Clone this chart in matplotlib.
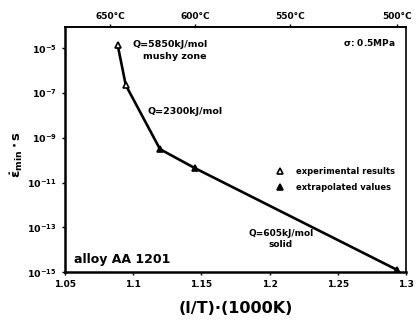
import matplotlib
matplotlib.use("Agg")
import matplotlib.pyplot as plt
from matplotlib.lines import Line2D
import numpy as np

# data
inv_T = [1.0886, 1.0945, 1.1196, 1.1453, 1.2934]
log_rate = [-4.87, -6.65, -9.51, -10.36, -14.9]
experimental = [True, True, False, False, False]
x_ticks = [1.05, 1.1, 1.15, 1.2, 1.25, 1.3]
x_tick_labels = ["1.05", "1.1", "1.15", "1.2", "1.25", "1.3"]
y_exps = [-5, -7, -9, -11, -13, -15]
top_temps = [650, 600, 550, 500]

rate = [10.0 ** v for v in log_rate]

plt.rcParams['font.family'] = ['DejaVu Sans']
plt.rcParams['font.weight'] = 'bold'
plt.rcParams['mathtext.default'] = 'bf'

fig = plt.figure(figsize=(4.17, 3.24), dpi=100)
ax = fig.add_axes([0.156, 0.160, 0.818, 0.757])

ax.plot(inv_T, rate, color='black', lw=1.9, zorder=2)
for xv, yv, exp in zip(inv_T, rate, experimental):
    ax.plot([xv], [yv], marker='^', ms=5, mew=1.2, color='black',
            mfc='white' if exp else 'black', zorder=3)

ax.set_yscale('log')
ax.set_xlim(1.05, 1.3)
ax.set_ylim(1e-15, 10 ** -4.05)
ax.set_yticks([10.0 ** e for e in y_exps])
ax.set_yticklabels([r'$10^{%d}$' % e for e in y_exps], fontsize=6.8)
ax.yaxis.set_minor_locator(matplotlib.ticker.NullLocator())
ax.set_xticks(x_ticks)
ax.set_xticklabels(x_tick_labels, fontsize=6.5, fontweight='bold')
ax.tick_params(axis='both', direction='out', length=2, width=1, pad=4)

for s in ['left', 'bottom']:
    ax.spines[s].set_linewidth(1.8)
for s in ['top', 'right']:
    ax.spines[s].set_linewidth(1.2)

sec = ax.secondary_xaxis('top', functions=(lambda x: 1000.0 / np.asarray(x, float) - 273.15,
                                            lambda t: 1000.0 / (np.asarray(t, float) + 273.15)))
sec.set_xticks(top_temps)
sec.set_xticklabels(['%d°C' % t for t in top_temps], fontsize=6.5, fontweight='bold')
sec.tick_params(direction='out', length=2, width=1, pad=2)
sec.spines['top'].set_linewidth(1.2)

ax.set_xlabel('(l/T)·(1000K)', fontsize=11.5, fontweight='bold', labelpad=8)
ax.set_ylabel(r'$\dot{\varepsilon}_{min}\cdot s$', fontsize=9.5)
ax.yaxis.set_label_coords(-0.118, 0.48)

tr = ax.transAxes
ax.text(0.197, 0.927, 'Q=5850kJ/mol', transform=tr, fontsize=6.8, fontweight='bold', va='center')
ax.text(0.323, 0.878, 'mushy zone', transform=tr, fontsize=6.8, fontweight='bold', va='center', ha='center')
ax.text(0.241, 0.653, 'Q=2300kJ/mol', transform=tr, fontsize=6.8, fontweight='bold', va='center')
ax.text(0.632, 0.158, 'Q=605kJ/mol', transform=tr, fontsize=6.5, fontweight='bold', va='center', ha='center')
ax.text(0.632, 0.113, 'solid', transform=tr, fontsize=6.5, fontweight='bold', va='center', ha='center')
ax.text(0.97, 0.935, r'$\sigma$: 0.5MPa', transform=tr, fontsize=6.5, fontweight='bold', va='center', ha='right')
ax.text(0.025, 0.053, 'alloy AA 1201', transform=tr, fontsize=9, fontweight='bold', va='center')

handles = [Line2D([], [], ls='none', marker='^', ms=5, mew=1.2, color='black', mfc='white'),
           Line2D([], [], ls='none', marker='^', ms=5, mew=1.2, color='black', mfc='black')]
leg = ax.legend(handles, ['experimental results', 'extrapolated values'], loc='upper right',
                bbox_to_anchor=(0.99, 0.46), frameon=False, prop={'size': 6, 'weight': 'bold'},
                handletextpad=1.3, labelspacing=0.8, handlelength=1.2)

fig.savefig('out.png', dpi=100)
